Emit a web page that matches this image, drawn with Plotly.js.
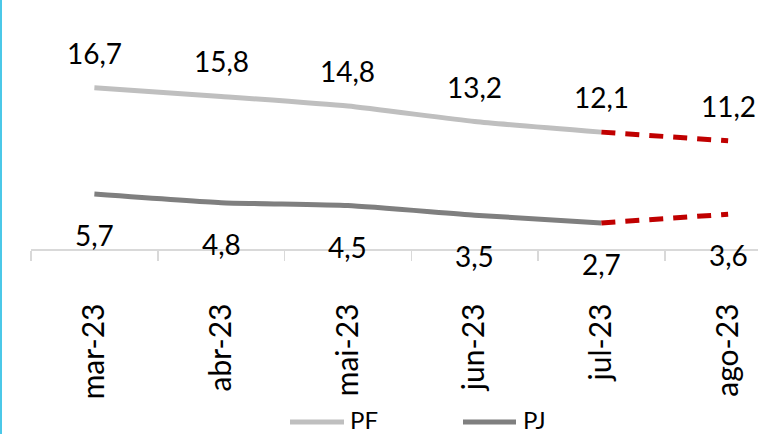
<!DOCTYPE html>
<html>
<head>
<meta charset="utf-8">
<script src="https://cdn.plot.ly/plotly-3.0.1.min.js"></script>
<style>
html, body { margin: 0; padding: 0; background: #fff; overflow: hidden; }
#wrap { position: relative; width: 758px; height: 434px; }
#chart { width: 758px; height: 434px; }
#edge { position: absolute; left: 0; top: 0; width: 2px; height: 434px; background: #4BC8E8; z-index: 10; }
</style>
</head>
<body>
<div id="wrap"><div id="edge"></div><div id="chart"></div></div>
<script>
const categories = ["mar-23", "abr-23", "mai-23", "jun-23", "jul-23", "ago-23"];
const pfValues = [16.7, 15.8, 14.8, 13.2, 12.1, 11.2];
const pjValues = [5.7, 4.8, 4.5, 3.5, 2.7, 3.6];
const seriesNames = ["PF", "PJ"];
const projectionStart = 4; // jul-23: from here the line is dashed (projection)

function fmt(v) { return v.toFixed(1).replace(".", ","); }
function solidPart(vals) { return vals.map((v, i) => i <= projectionStart ? v : null); }
function dashPart(vals) { return vals.map((v, i) => i >= projectionStart ? v : null); }

const FONT = "Lato, 'Open Sans', sans-serif";
const PF_COLOR = "#BFBFBF";
const PJ_COLOR = "#7F7F7F";
const RED = "#C00000";

const traces = [
  { x: categories, y: solidPart(pfValues), mode: "lines", name: seriesNames[0],
    line: { color: PF_COLOR, width: 5, shape: "spline", smoothing: 0.5 }, showlegend: false, hoverinfo: "skip" },
  { x: categories, y: solidPart(pjValues), mode: "lines", name: seriesNames[1],
    line: { color: PJ_COLOR, width: 5, shape: "spline", smoothing: 0.5 }, showlegend: false, hoverinfo: "skip" },
  { x: categories, y: dashPart(pfValues), mode: "lines", name: seriesNames[0] + " proj",
    line: { color: RED, width: 5, dash: "14px,10px" }, showlegend: false, hoverinfo: "skip" },
  { x: categories, y: dashPart(pjValues), mode: "lines", name: seriesNames[1] + " proj",
    line: { color: RED, width: 5, dash: "14px,10px" }, showlegend: false, hoverinfo: "skip" }
];

const annotations = [];
categories.forEach((c, i) => {
  annotations.push({ x: c, y: pfValues[i], xref: "x", yref: "y", text: fmt(pfValues[i]),
    showarrow: false, yshift: 35, font: { family: FONT, size: 28, color: "#000" } });
  annotations.push({ x: c, y: pjValues[i], xref: "x", yref: "y", text: fmt(pjValues[i]),
    showarrow: false, yshift: -41, font: { family: FONT, size: 28, color: "#000" } });
});

// custom legend (paper coordinates)
const plotL = 31, plotW = 727, plotH = 249;
const px = v => (v - plotL) / plotW;
const py = v => (plotH - v) / plotH;
const legendY = py(422);
const shapes = [
  { type: "line", xref: "paper", yref: "paper", x0: px(290), x1: px(344), y0: legendY, y1: legendY,
    line: { color: PF_COLOR, width: 5 } },
  { type: "line", xref: "paper", yref: "paper", x0: px(463), x1: px(516), y0: legendY, y1: legendY,
    line: { color: PJ_COLOR, width: 5 } }
];
annotations.push({ xref: "paper", yref: "paper", x: px(348), y: py(419), xanchor: "left", yanchor: "middle",
  text: seriesNames[0], showarrow: false, font: { family: FONT, size: 24, color: "#000" } });
annotations.push({ xref: "paper", yref: "paper", x: px(521), y: py(419), xanchor: "left", yanchor: "middle",
  text: seriesNames[1], showarrow: false, font: { family: FONT, size: 24, color: "#000" } });

const layout = {
  width: 758, height: 434,
  margin: { l: plotL, r: 0, t: 0, b: 434 - plotH, pad: 0 },
  paper_bgcolor: "#fff", plot_bgcolor: "#fff",
  showlegend: false,
  xaxis: {
    type: "category", range: [-0.5, -0.5 + plotW / 126.75],
    showline: true, linecolor: "#D9D9D9", linewidth: 1.5,
    ticks: "outside", tickson: "boundaries", ticklen: 10, tickcolor: "#D9D9D9", tickwidth: 1.5,
    tickangle: -90, ticklabelstandoff: 41,
    tickfont: { family: FONT, size: 30, color: "#000" },
    showgrid: false, zeroline: false, fixedrange: true
  },
  yaxis: { range: [0, 25.78], visible: false, showgrid: false, zeroline: false, fixedrange: true },
  annotations: annotations,
  shapes: shapes
};

Plotly.newPlot("chart", traces, layout, { displayModeBar: false, staticPlot: true });
</script>
</body>
</html>
